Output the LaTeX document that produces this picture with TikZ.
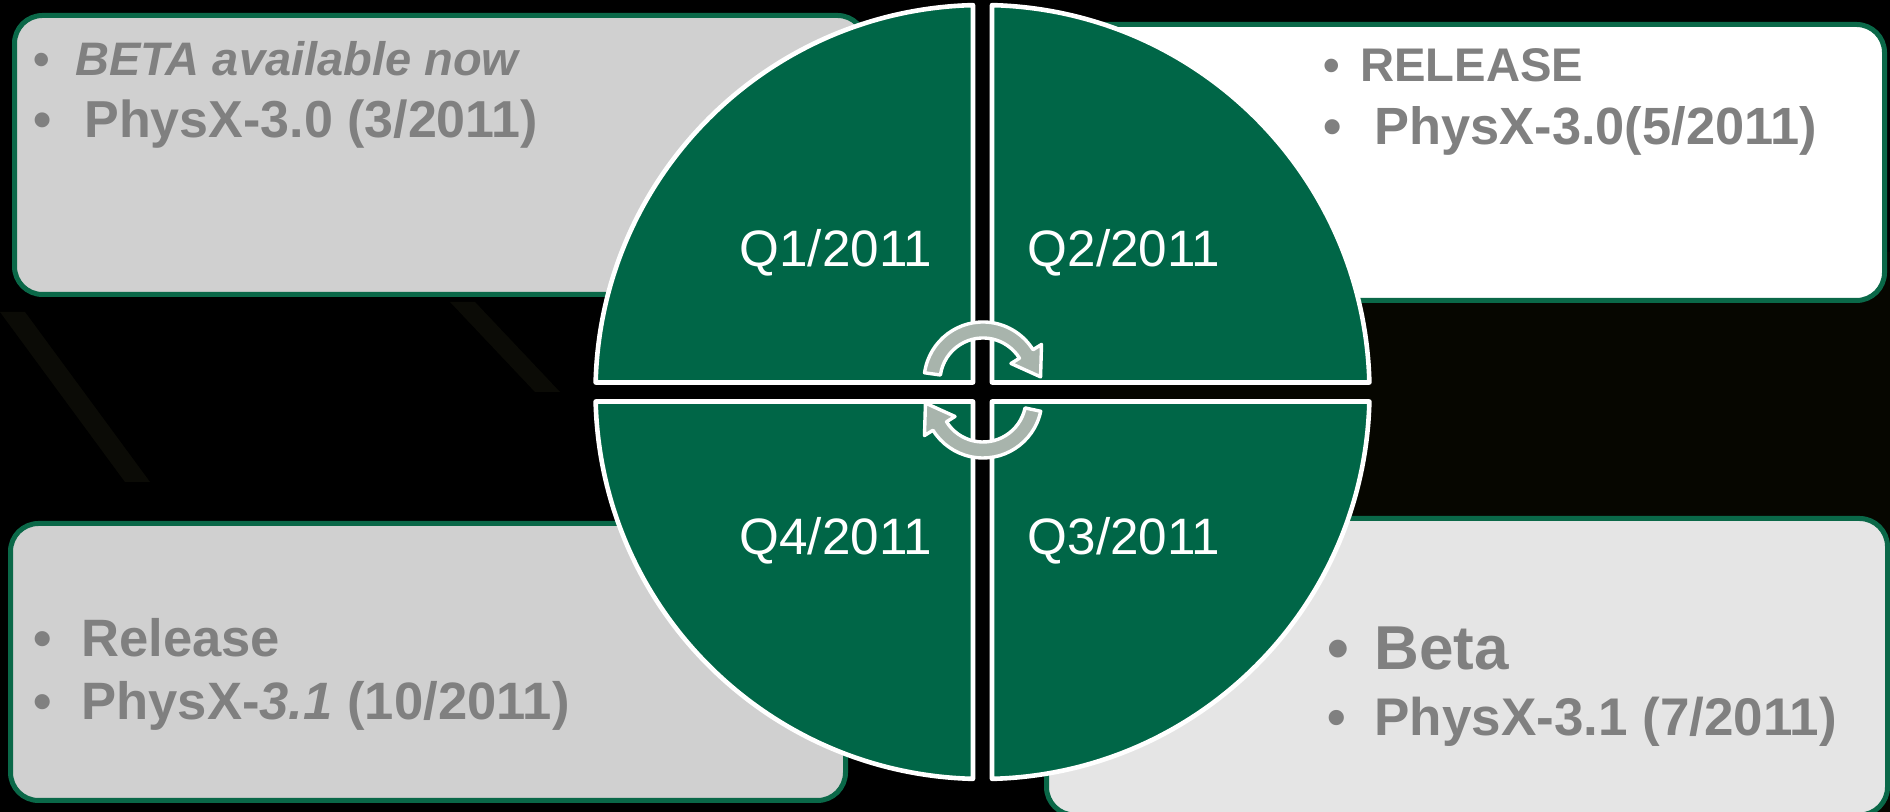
\documentclass[tikz,border=0pt]{standalone}
\usepackage{fontspec}
\setmainfont{Liberation Sans}
\usetikzlibrary{calc}
\definecolor{pxGreen}{RGB}{0,102,71}
\definecolor{pxEdge}{RGB}{10,104,72}
\definecolor{pxText}{RGB}{128,128,128}
\definecolor{pxLight}{RGB}{208,208,208}
\definecolor{pxPale}{RGB}{229,229,229}
\definecolor{pxArrow}{RGB}{168,180,172}
\definecolor{pxShade}{RGB}{11,11,6}
\definecolor{pxDusk}{RGB}{6,6,0}
\newcommand{\fsz}[1]{\fontsize{#1}{#1}\selectfont}
\newcommand{\bul}[1]{\makebox[#1][l]{•}}

\begin{document}
\begin{tikzpicture}[
    x=0.5pt, y=0.5pt,
    infobox/.style={draw=pxEdge, line width=2.5pt, rounded corners=14pt, inner sep=0pt, outer sep=0pt},
    item/.style={anchor=base west, inner sep=0pt, text=pxText, font=\bfseries\fsz{#1}},
    qtr/.style={fill=pxGreen, draw=white, line width=2.3pt, line join=round},
    qlabel/.style={anchor=base, inner sep=0pt, text=white, font=\fsz{25.6pt}},
    cycarrow/.style={fill=pxArrow, draw=white, line width=1.7pt, line join=round}
  ]
  \useasboundingbox (0,0) rectangle (1890,812);
  \fill[black] (0,0) rectangle (1890,812);
  \fill[pxDusk] (1100,0) rectangle (1890,560);
  % faint streaks in the backdrop
  \fill[pxShade] (0,500) -- (25,500) -- (150,330) -- (125,330) -- cycle;
  \fill[pxShade] (450,510) -- (475,510) -- (560,420) -- (535,420) -- cycle;

  % the four info boxes
  \node[infobox, fill=pxLight, minimum width=425.5pt, minimum height=139.5pt] (q1box) at (440,657) {};
  \node[infobox, fill=white, minimum width=436pt, minimum height=138pt] (q2box) at (1448.5,649.5) {};
  \node[infobox, fill=pxLight, minimum width=417.5pt, minimum height=138.5pt] (q4box) at (428,150) {};
  \node[infobox, fill=pxPale, minimum width=420.5pt, minimum height=148.25pt] (q3box) at (1467,145.25) {};

  \node[item=23.5pt] (q1a) at (33,736) {\bul{21pt}\itshape BETA available now};
  \node[item=26pt] (q1b) at (33,674) {\bul{25.5pt}PhysX-3.0 (3/2011)};
  \node[item=23.6pt] (q2a) at (1323,730) {\bul{18.5pt}RELEASE};
  \node[item=26.2pt] (q2b) at (1323,667) {\bul{25.5pt}PhysX-3.0(5/2011)};
  \node[item=26.3pt] (q4a) at (33,155) {\bul{24pt}Release};
  \node[item=26.3pt] (q4b) at (33,92) {\bul{24pt}PhysX-\textit{3.1} (10/2011)};
  \node[item=31pt] (q3a) at (1327,142) {\bul{23.5pt}Beta};
  \node[item=26.5pt] (q3b) at (1327,76) {\bul{23.5pt}PhysX-3.1 (7/2011)};

  % quarter pies
  \coordinate (hub) at (982.5,420);
  \foreach \a/\sx/\sy in {0/1/1, 90/-1/1, 180/-1/-1, 270/1/-1}
    \draw[qtr] ($(hub)+(9.5*\sx,9.5*\sy)$) -- ($(hub)+(\a+1.41:387)$)
      arc[start angle=\a+1.41, end angle=\a+88.59, radius=387] -- cycle;

  % turning arrows
  \foreach \cy/\aS/\aE in {431/172/32, 413/-12/-148}{
    \coordinate (spin) at (983,\cy);
    \draw[cycarrow] ($(spin)+(\aS:59)$) arc[start angle=\aS, end angle=\aE, radius=59]
      -- ($(spin)+(\aE:69)$)
      -- ($(spin)+(\aE:51)+({27*sin(\aE)},{-27*cos(\aE)})$)
      -- ($(spin)+(\aE:33)$) -- ($(spin)+(\aE:43)$)
      arc[start angle=\aE, end angle=\aS, radius=43] -- cycle;
  }

  \node[qlabel] (q1) at (836,545) {Q1/2011};
  \node[qlabel] (q2) at (1124,545) {Q2/2011};
  \node[qlabel] (q4) at (836,257) {Q4/2011};
  \node[qlabel] (q3) at (1124,257) {Q3/2011};
\end{tikzpicture}
\end{document}
